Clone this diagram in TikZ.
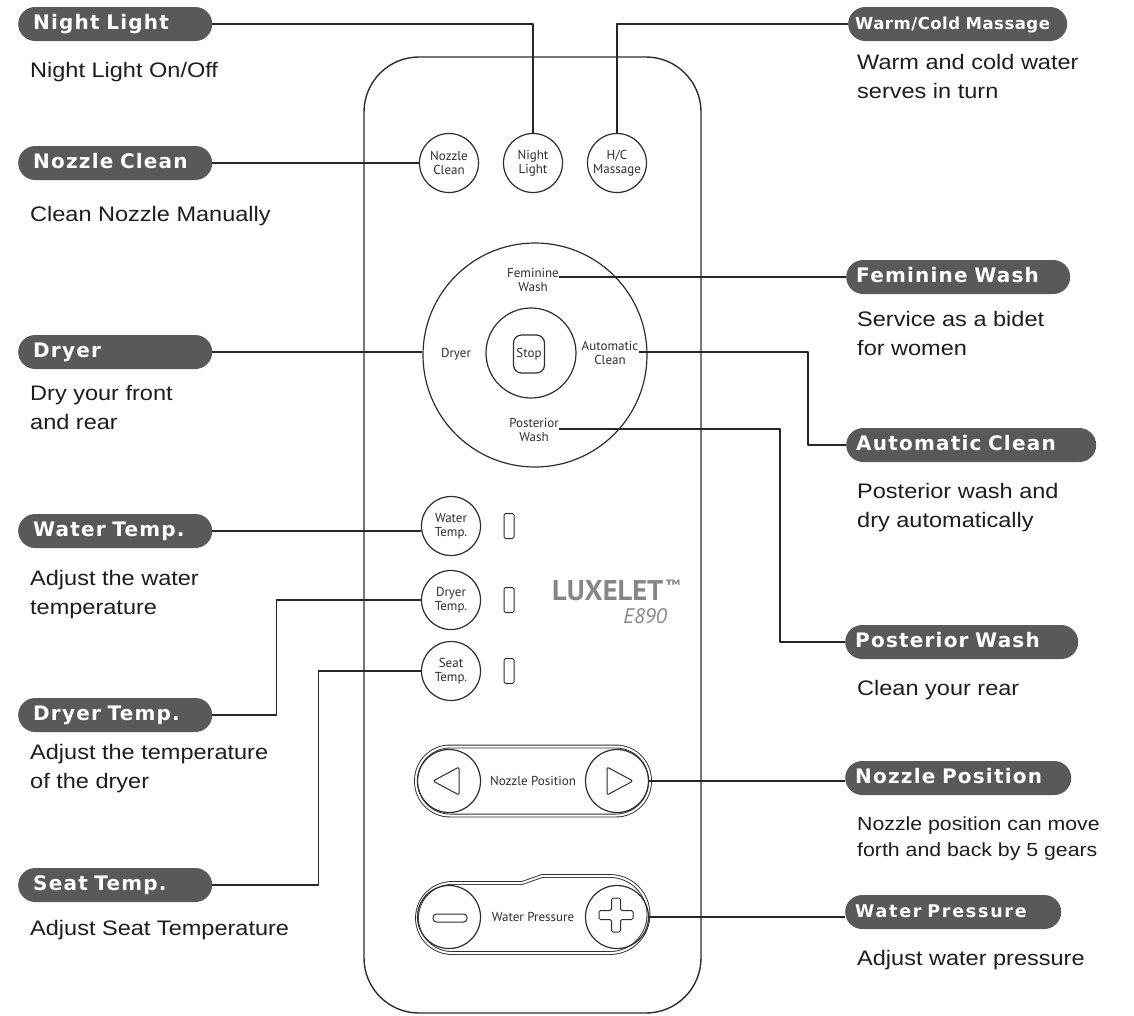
\documentclass[tikz,border=0pt]{standalone}
\usepackage{fontspec}
\setmainfont{Liberation Sans}[FakeStretch=1.12]
\newfontfamily\pillfont{DejaVu Sans Bold}[LetterSpace=6, WordSpace=1.8]
\newfontfamily\pillsmall{DejaVu Sans Bold}[LetterSpace=10, WordSpace=1.8]
\newfontfamily\pilltight{DejaVu Sans Bold}[LetterSpace=3, WordSpace=1.2]
\newfontfamily\keyfont{PT Sans}
\usetikzlibrary{positioning,calc}
\definecolor{pillgray}{RGB}{88,89,91}
\definecolor{inkgray}{RGB}{45,45,45}
\definecolor{logogray}{RGB}{135,135,135}
\definecolor{txtblack}{RGB}{30,28,28}
\tikzset{
  pill/.style={anchor=west, fill=pillgray, text=white, rounded corners=17pt,
    minimum height=34pt, inner xsep=15pt, text width=#1, align=left,
    text height=14.5pt, text depth=4.5pt, font=\pillfont\fontsize{20}{22}\selectfont},
  desc/.style={anchor=north west, inner sep=0pt, align=left, text=txtblack,
    font=\fontsize{21}{29}\selectfont},
  key/.style={circle, draw=inkgray, line width=1.2pt, minimum size=59pt,
    inner sep=0pt, align=center, text=inkgray,
    font=\keyfont\fontsize{13}{14}\selectfont},
  ring/.style={circle, draw=inkgray, line width=1.2pt, inner sep=0pt},
  lbl/.style={inner sep=0pt, text=inkgray, font=\keyfont\fontsize{13}{14}\selectfont},
  led/.style={draw=inkgray, line width=1pt, rounded corners=1.5pt,
    minimum width=10pt, minimum height=25pt, inner sep=0pt},
  body/.style={draw=inkgray, line width=1.4pt, rounded corners=55pt},
  bar/.style={draw=inkgray, double=white, double distance=2pt, line width=0.9pt},
  icon/.style={draw=inkgray, line width=1pt, rounded corners=2pt},
  wire/.style={draw=black!85, line width=1.1pt},
}

\begin{document}
\begin{tikzpicture}[x=1pt, y=-1pt, line join=round]
  \useasboundingbox (0,0) rectangle (1134,1015);

  % remote
  \draw[body] (364,57) rectangle (701,1013);

  \node[key] (ncbtn) at (449,163) {Nozzle\\Clean};
  \node[key] (nlbtn) at (533,163) {Night\\Light};
  \node[key] (hcbtn) at (617,163) {H/C\\Massage};

  \node[ring, minimum size=224pt] (ring) at (535,355) {};
  \node[ring, minimum size=90pt] (inner) at (531,353) {};
  \node[draw=inkgray, line width=1.2pt, rounded corners=8pt, minimum width=31pt,
    minimum height=38pt, inner sep=0pt, text=inkgray,
    font=\keyfont\fontsize{13}{14}\selectfont] (stop) at (529,354) {Stop};
  \node[lbl, anchor=base] (fwl) at (533,277) {Feminine};
  \node[lbl, anchor=base] (fwl2) at (533,291) {Wash};
  \node[lbl, anchor=base] (dryl) at (456,357) {Dryer};
  \node[lbl, anchor=base] (acl) at (610,350) {Automatic};
  \node[lbl, anchor=base] (acl2) at (610,364) {Clean};
  \node[lbl, anchor=base] (pwl) at (534,427) {Posterior};
  \node[lbl, anchor=base] (pwl2) at (534,441) {Wash};

  \foreach \y/\n/\t in {526/wt/Water, 600/dt/Dryer, 671/st/Seat} {
    \node[key] (btn-\n) at (451,\y) {\t\\Temp.};
    \node[led] (led-\n) at (509,\y) {};
  }

  \node[anchor=base west, inner sep=0pt, text=logogray,
    font=\keyfont\bfseries\fontsize{28.5}{30}\selectfont] (brand) at (552,600) {LUXELET};
  \node[anchor=north west, inner sep=0pt, text=logogray,
    font=\keyfont\bfseries\fontsize{15}{16}\selectfont] (tm) at ([xshift=2pt]brand.north east) {™};
  \node[anchor=base east, inner sep=0pt, text=logogray,
    font=\keyfont\itshape\fontsize{21}{22}\selectfont] (model) at (667,623) {E890};

  % nozzle position
  \node[bar, rounded corners=34pt, minimum width=234pt, minimum height=69pt,
    inner sep=0pt] (npbar) at (533,781) {};
  \node[key, minimum size=63pt] (npl) at (449,781) {};
  \node[key, minimum size=63pt] (npr) at (617,781) {};
  \draw[icon] (433,781) -- (459,767) -- (459,795) -- cycle;
  \draw[icon] (633,781) -- (607,767) -- (607,795) -- cycle;
  \node[lbl] (nptxt) at (533,781) {Nozzle Position};

  % water pressure
  \draw[bar] (522,883) -- (452,883) arc[start angle=-90, end angle=-270, radius=35]
    -- (610,953) arc[start angle=90, end angle=-90, radius=38.5] -- (542,876) -- cycle;
  \node[key, minimum size=63pt] (wpl) at (449,917) {};
  \node[key, minimum size=63pt] (wpr) at (617,917) {};
  \draw[icon, rounded corners=3.5pt] (433,914) rectangle (467,922);
  \draw[icon, rounded corners=1.5pt] (611.5,898) -- (620.5,898) -- (620.5,910.5)
    -- (633,910.5) -- (633,919.5) -- (620.5,919.5) -- (620.5,932) -- (611.5,932)
    -- (611.5,919.5) -- (599,919.5) -- (599,910.5) -- (611.5,910.5) -- cycle;
  \node[lbl] (wptxt) at (533,917) {Water Pressure};

  % labels, left
  \node[pill=164pt] (nlpill) at (18,24) {Night Light};
  \node[pill=164pt] (ncpill) at (18,163) {Nozzle Clean};
  \node[pill=164pt] (drpill) at (18,352) {Dryer};
  \node[pill=164pt] (wtpill) at (18,531) {Water Temp.};
  \node[pill=164pt] (dtpill) at (18,715) {Dryer Temp.};
  \node[pill=164pt] (stpill) at (18,885) {Seat Temp.};
  \node[desc] (nldesc) at (30,62) {Night Light On/Off};
  \node[desc] (ncdesc) at (30,206) {Clean Nozzle Manually};
  \node[desc] (drdesc) at (30,385) {Dry your front\\and rear};
  \node[desc] (wtdesc) at (30,570) {Adjust the water\\temperature};
  \node[desc] (dtdesc) at (30,744) {Adjust the temperature\\of the dryer};
  \node[desc] (stdesc) at (30,920) {Adjust Seat Temperature};

  % labels, right
  \node[pill=205pt, inner xsep=7pt, font=\pilltight\fontsize{16.5}{19}\selectfont]
    (wcpill) at (848,24) {Warm/Cold Massage};
  \node[pill=204pt, inner xsep=10pt] (fwpill) at (846,277) {Feminine Wash};
  \node[pill=230pt, inner xsep=10pt] (acpill) at (846,445) {Automatic Clean};
  \node[pill=213pt, inner xsep=10pt] (pwpill) at (845,642) {Posterior Wash};
  \node[pill=206pt, inner xsep=10pt] (nppill) at (845,778) {Nozzle Position};
  \node[pill=196pt, inner xsep=10pt, font=\pillsmall\fontsize{17.5}{19}\selectfont]
    (wppill) at (845,912) {Water Pressure};
  \node[desc] (wcdesc) at (857,54) {Warm and cold water\\serves in turn};
  \node[desc] (fwdesc) at (857,311) {Service as a bidet\\for women};
  \node[desc] (acdesc) at (857,483) {Posterior wash and\\dry automatically};
  \node[desc] (pwdesc) at (857,680) {Clean your rear};
  \node[desc, font=\fontsize{19}{26}\selectfont] (npdesc) at (857,817)
    {Nozzle position can move\\forth and back by 5 gears};
  \node[desc] (wpdesc) at (857,950) {Adjust water pressure};

  % wires
  \draw[wire] (nlpill.east) -- (nlpill.east -| nlbtn.north) -- (nlbtn.north);
  \draw[wire] (wcpill.west) -- (wcpill.west -| hcbtn.north) -- (hcbtn.north);
  \draw[wire] (ncpill.east) -- (ncbtn.west);
  \draw[wire] (drpill.east) -- (drpill.east -| ring.west);
  \draw[wire] (fwl.base east) -- (fwl.base east -| fwpill.west);
  \draw[wire] ([yshift=-2pt]acl.base east) -| ([xshift=-38pt]acpill.west) -- (acpill.west);
  \draw[wire] ([yshift=-2pt]pwl.base east) -| ([xshift=-65pt]pwpill.west) -- (pwpill.west);
  \draw[wire] (wtpill.east) -- (wtpill.east -| btn-wt.west);
  \draw[wire] (dtpill.east) -| ([xshift=-144pt]btn-dt.west) -- (btn-dt.west);
  \draw[wire] (stpill.east) -| ([xshift=-102pt]btn-st.west) -- (btn-st.west);
  \draw[wire] (npr.east) -- (npr.east -| nppill.west);
  \draw[wire] (wpr.east) -- (wpr.east -| wppill.west);
\end{tikzpicture}
\end{document}
